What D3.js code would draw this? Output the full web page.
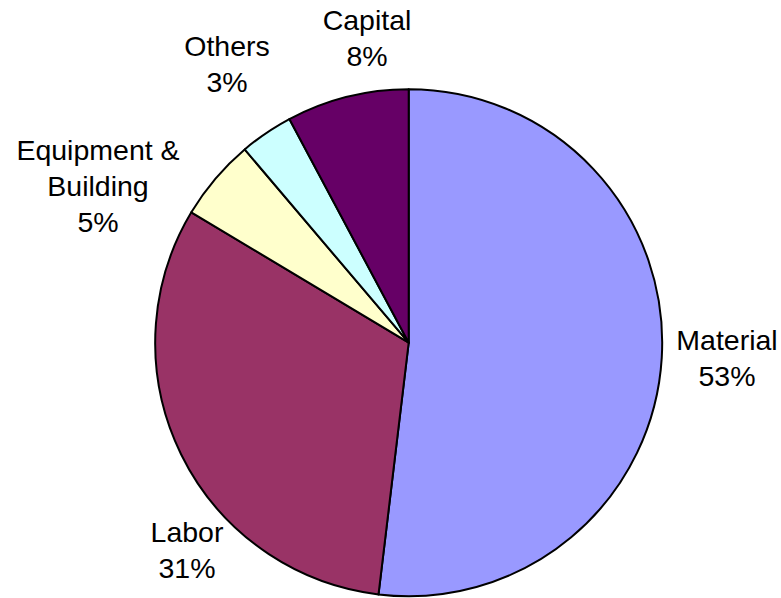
<!DOCTYPE html>
<html>
<head>
<meta charset="utf-8">
<script src="https://d3js.org/d3.v7.min.js"></script>
<style>
  body { margin: 0; background: #fff; }
  svg text { font-family: "Liberation Sans", Arial, sans-serif; font-size: 28.5px; fill: #000; }
</style>
</head>
<body>
<script>
// shares (clockwise from 12 o'clock)
const categories = ["Material", "Labor", "Equipment & Building", "Others", "Capital"];
const shares = [51.9, 31.7, 5.2, 3.4, 7.8];
const labelText = ["53%", "31%", "5%", "3%", "8%"];
const colors = ["#9999ff", "#993366", "#ffffcc", "#ccffff", "#660066"];

// label lines (Excel splits the long name) and where each block sits
const labelLines = [["Material"], ["Labor"], ["Equipment &", "Building"], ["Others"], ["Capital"]];
const labelAnchor = [[727, 349.5], [187, 541.5], [98, 159.5], [227, 56], [367, 29.5]];

const width = 781, height = 598;
const cx = 408.7, cy = 342.7, radius = 253.5;
const lineGap = 36;

const svg = d3.select("body").append("svg")
  .attr("width", width)
  .attr("height", height);

const pie = d3.pie().sort(null).value(d => d)(shares);
const arc = d3.arc().innerRadius(0).outerRadius(radius);

const g = svg.append("g").attr("transform", `translate(${cx},${cy})`);

g.selectAll("path")
  .data(pie)
  .enter()
  .append("path")
  .attr("d", arc)
  .attr("fill", (d, i) => colors[i])
  .attr("stroke", "#000")
  .attr("stroke-width", 2)
  .attr("stroke-linejoin", "round");

const labels = svg.selectAll("text.lbl")
  .data(categories)
  .enter()
  .append("text")
  .attr("class", "lbl")
  .attr("text-anchor", "middle")
  .attr("x", (d, i) => labelAnchor[i][0])
  .attr("y", (d, i) => labelAnchor[i][1]);

labels.each(function(d, i) {
  const t = d3.select(this);
  const lines = labelLines[i].concat([labelText[i]]);
  lines.forEach((s, k) => {
    t.append("tspan")
      .attr("x", labelAnchor[i][0])
      .attr("dy", k === 0 ? 0 : lineGap)
      .text(s);
  });
});
</script>
</body>
</html>
